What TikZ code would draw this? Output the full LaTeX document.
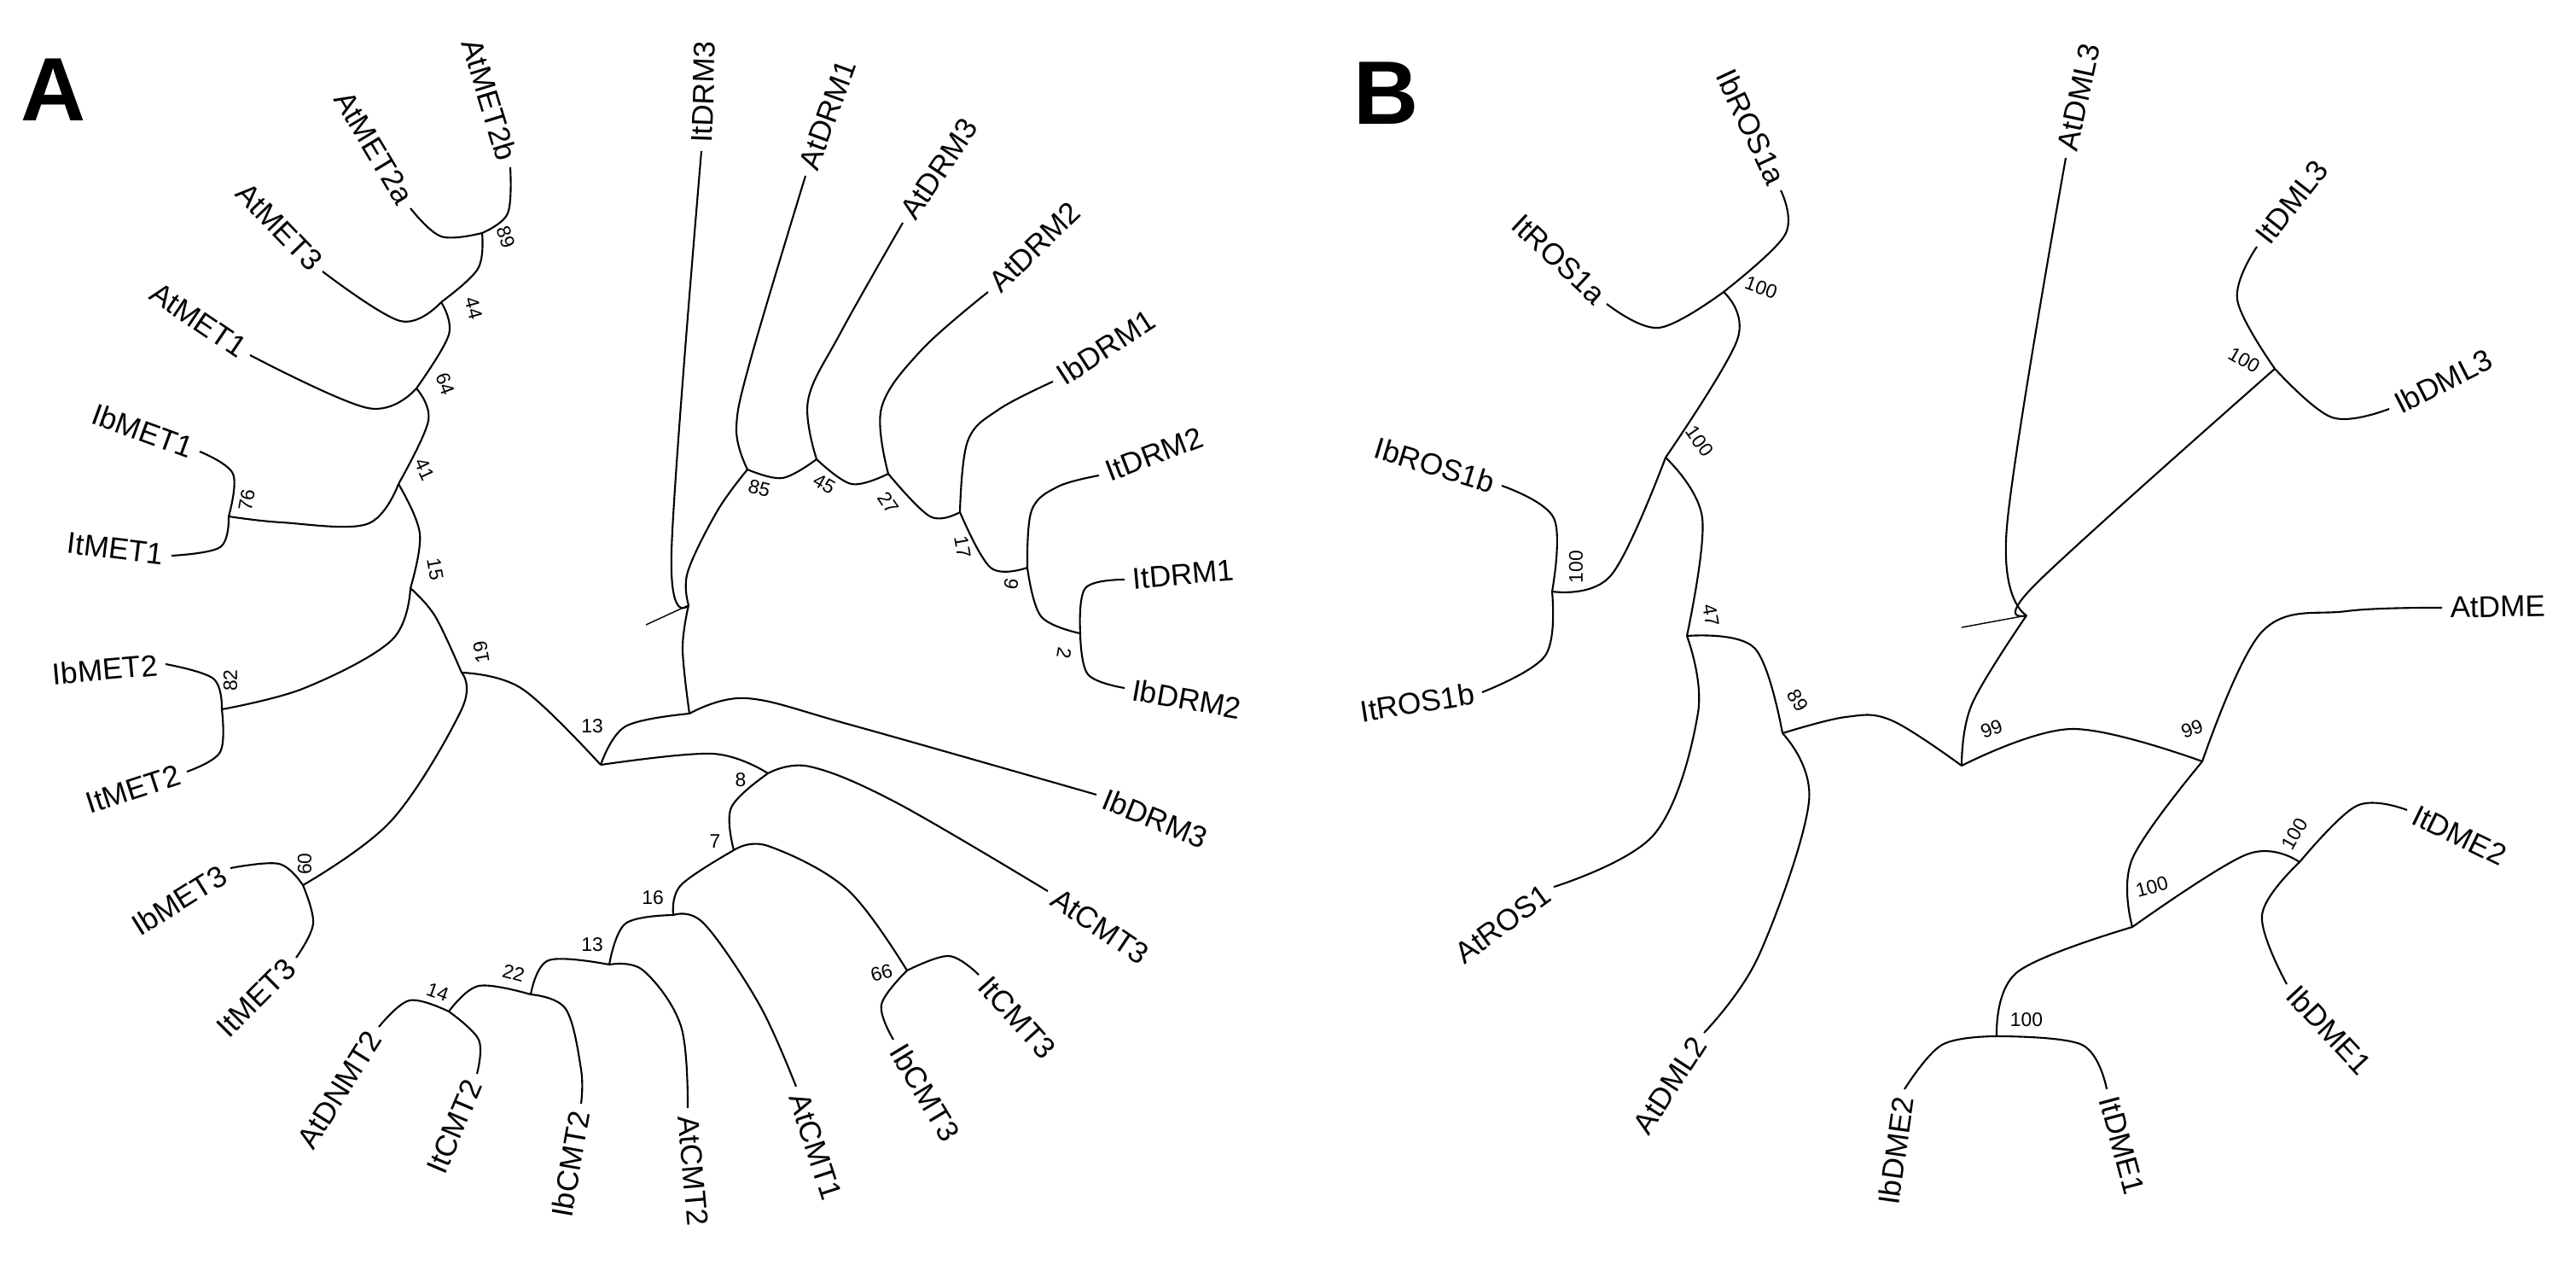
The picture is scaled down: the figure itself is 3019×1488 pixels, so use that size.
\documentclass[tikz,border=0pt]{standalone}
\usepackage{fontspec}
\setmainfont{Liberation Sans}
\newcommand{\leaffont}{\fontsize{10}{12}\selectfont}
\newcommand{\bootfont}{\fontsize{6.5}{8}\selectfont}
\tikzset{
  branch/.style={line width=0.6pt, smooth, tension=0.6},
  leafL/.style={anchor=east, inner sep=2.5pt, font=\leaffont},
  leafR/.style={anchor=west, inner sep=2.5pt, font=\leaffont},
  boot/.style={inner sep=0pt, font=\bootfont},
  panel/.style={font=\fontsize{30}{30}\selectfont\bfseries}
}
\begin{document}
\begin{tikzpicture}[x=0.01cm, y=-0.01cm]
\useasboundingbox (0,0) rectangle (3019,1488);

\node[panel] (A) at (63,105) {A};
\node[panel] (B) at (1625,109) {B};

% panel A: inner nodes
\coordinate (n89) at (565,273);
\coordinate (n44) at (517,354);
\coordinate (n64) at (488,455);
\coordinate (n41) at (467,567);
\coordinate (n76) at (268,605);
\coordinate (n15) at (481,689);
\coordinate (n19) at (541,788);
\coordinate (n13) at (704,896);
\coordinate (n82) at (260,831);
\coordinate (n60) at (355,1037);
\coordinate (J) at (808,836);
\coordinate (nT) at (807,709);
\coordinate (tk) at (757,732);
\coordinate (n85) at (876,550);
\coordinate (n45) at (957,538);
\coordinate (n27) at (1041,555);
\coordinate (n17) at (1125,600);
\coordinate (n9) at (1204,665);
\coordinate (n2) at (1266,742);
\coordinate (n8) at (900,906);
\coordinate (n7) at (860,996);
\coordinate (n16) at (789,1072);
\coordinate (n13b) at (714,1130);
\coordinate (n22) at (622,1165);
\coordinate (n14) at (526,1185);
\coordinate (n66) at (1063,1137);

% panel A: leaves
\coordinate (tAtMET2b) at (598,196);
\coordinate (tAtMET2a) at (481,244);
\coordinate (tAtMET3) at (378,318);
\coordinate (tAtMET1) at (293,416);
\coordinate (tIbMET1) at (234,529);
\coordinate (tItMET1) at (201,651);
\coordinate (tIbMET2) at (194,778);
\coordinate (tItMET2) at (219,904);
\coordinate (tIbMET3) at (270,1017);
\coordinate (tItMET3) at (347,1122);
\coordinate (tAtDNMT2) at (444,1203);
\coordinate (tItCMT2) at (559,1258);
\coordinate (tIbCMT2) at (681,1293);
\coordinate (tAtCMT2) at (806,1298);
\coordinate (tAtCMT1) at (933,1273);
\coordinate (tIbCMT3) at (1047,1218);
\coordinate (tItCMT3) at (1147,1142);
\coordinate (tAtCMT3) at (1228,1044);
\coordinate (tIbDRM3) at (1285,931);
\coordinate (tIbDRM2) at (1318,806);
\coordinate (tItDRM1) at (1318,679);
\coordinate (tItDRM2) at (1288,557);
\coordinate (tIbDRM1) at (1234,447);
\coordinate (tAtDRM2) at (1158,342);
\coordinate (tAtDRM3) at (1058,261);
\coordinate (tAtDRM1) at (944,206);
\coordinate (tItDRM3) at (822,177);

\node[leafL, rotate=-73] (AtMET2b) at (tAtMET2b) {AtMET2b};
\node[leafL, rotate=-59] (AtMET2a) at (tAtMET2a) {AtMET2a};
\node[leafL, rotate=-46] (AtMET3) at (tAtMET3) {AtMET3};
\node[leafL, rotate=-34] (AtMET1) at (tAtMET1) {AtMET1};
\node[leafL, rotate=-20] (IbMET1) at (tIbMET1) {IbMET1};
\node[leafL, rotate=-7] (ItMET1) at (tItMET1) {ItMET1};
\node[leafL, rotate=5] (IbMET2) at (tIbMET2) {IbMET2};
\node[leafL, rotate=18] (ItMET2) at (tItMET2) {ItMET2};
\node[leafL, rotate=32] (IbMET3) at (tIbMET3) {IbMET3};
\node[leafL, rotate=45] (ItMET3) at (tItMET3) {ItMET3};
\node[leafL, rotate=58] (AtDNMT2) at (tAtDNMT2) {AtDNMT2};
\node[leafL, rotate=67] (ItCMT2) at (tItCMT2) {ItCMT2};
\node[leafL, rotate=80] (IbCMT2) at (tIbCMT2) {IbCMT2};
\node[leafR, rotate=-85] (AtCMT2) at (tAtCMT2) {AtCMT2};
\node[leafR, rotate=-72] (AtCMT1) at (tAtCMT1) {AtCMT1};
\node[leafR, rotate=-59] (IbCMT3) at (tIbCMT3) {IbCMT3};
\node[leafR, rotate=-48] (ItCMT3) at (tItCMT3) {ItCMT3};
\node[leafR, rotate=-34] (AtCMT3) at (tAtCMT3) {AtCMT3};
\node[leafR, rotate=-22] (IbDRM3) at (tIbDRM3) {IbDRM3};
\node[leafR, rotate=-10] (IbDRM2) at (tIbDRM2) {IbDRM2};
\node[leafR, rotate=5] (ItDRM1) at (tItDRM1) {ItDRM1};
\node[leafR, rotate=21] (ItDRM2) at (tItDRM2) {ItDRM2};
\node[leafR, rotate=33] (IbDRM1) at (tIbDRM1) {IbDRM1};
\node[leafR, rotate=44] (AtDRM2) at (tAtDRM2) {AtDRM2};
\node[leafR, rotate=56] (AtDRM3) at (tAtDRM3) {AtDRM3};
\node[leafR, rotate=70] (AtDRM1) at (tAtDRM1) {AtDRM1};
\node[leafR, rotate=88] (ItDRM3) at (tItDRM3) {ItDRM3};

% panel A: branches
\draw[branch] plot coordinates {(n89) (595,250) (tAtMET2b)};
\draw[branch] plot coordinates {(n89) (517,277) (tAtMET2a)};
\draw[branch] plot coordinates {(n44) (560,315) (n89)};
\draw[branch] plot coordinates {(n44) (469,376) (tAtMET3)};
\draw[branch] plot coordinates {(n64) (526,392) (n44)};
\draw[branch] plot coordinates {(n64) (431,478) (tAtMET1)};
\draw[branch] plot coordinates {(n41) (502,493) (n64)};
\draw[branch] plot coordinates {(n41) (430,614) (330,612) (n76)};
\draw[branch] plot coordinates {(n76) (273,555) (tIbMET1)};
\draw[branch] plot coordinates {(n76) (258,641) (tItMET1)};
\draw[branch] plot coordinates {(n15) (492,625) (n41)};
\draw[branch] plot coordinates {(n19) (510,722) (n15)};
\draw[branch] plot coordinates {(n15) (459,750) (357,806) (n82)};
\draw[branch] plot coordinates {(n82) (250,795) (tIbMET2)};
\draw[branch] plot coordinates {(n82) (258,881) (tItMET2)};
\draw[branch] plot coordinates {(n19) (541,831) (459,961) (n60)};
\draw[branch] plot coordinates {(n60) (327,1012) (tIbMET3)};
\draw[branch] plot coordinates {(n60) (367,1082) (tItMET3)};
\draw[branch] plot coordinates {(n13) (612,807) (n19)};
\draw[branch] plot coordinates {(n13) (733,851) (J)};
\draw[branch] plot coordinates {(J) (800,760) (nT)};
\draw (nT) -- (tk);
\draw[branch] plot coordinates {(nT) (787,646) (tItDRM3)};
\draw[branch] plot coordinates {(J) (875,818) (1000,850) (tIbDRM3)};
\draw[branch] plot coordinates {(nT) (806,670) (841,598) (n85)};
\draw[branch] plot coordinates {(n85) (863,502) (880,420) (tAtDRM1)};
\draw[branch] plot coordinates {(n85) (917,560) (n45)};
\draw[branch] plot coordinates {(n45) (947,469) (985,390) (tAtDRM3)};
\draw[branch] plot coordinates {(n45) (998,567) (n27)};
\draw[branch] plot coordinates {(n27) (1033,478) (1080,410) (tAtDRM2)};
\draw[branch] plot coordinates {(n27) (1090,605) (n17)};
\draw[branch] plot coordinates {(n17) (1134,517) (1170,480) (tIbDRM1)};
\draw[branch] plot coordinates {(n17) (1161,665) (n9)};
\draw[branch] plot coordinates {(n9) (1209,598) (1240,570) (tItDRM2)};
\draw[branch] plot coordinates {(n9) (1220,722) (n2)};
\draw[branch] plot coordinates {(n2) (1272,689) (tItDRM1)};
\draw[branch] plot coordinates {(n2) (1275,790) (tIbDRM2)};
\draw[branch] plot coordinates {(n13) (835,883) (n8)};
\draw[branch] plot coordinates {(n8) (949,898) (1050,940) (tAtCMT3)};
\draw[branch] plot coordinates {(n8) (857,946) (n7)};
\draw[branch] plot coordinates {(n7) (900,991) (993,1042) (n66)};
\draw[branch] plot coordinates {(n66) (1112,1120) (tItCMT3)};
\draw[branch] plot coordinates {(n66) (1033,1177) (tIbCMT3)};
\draw[branch] plot coordinates {(n7) (798,1037) (n16)};
\draw[branch] plot coordinates {(n16) (825,1082) (890,1177) (tAtCMT1)};
\draw[branch] plot coordinates {(n16) (733,1082) (n13b)};
\draw[branch] plot coordinates {(n13b) (754,1137) (798,1202) (tAtCMT2)};
\draw[branch] plot coordinates {(n13b) (643,1125) (n22)};
\draw[branch] plot coordinates {(n22) (663,1182) (681,1253) (tIbCMT2)};
\draw[branch] plot coordinates {(n22) (561,1155) (n14)};
\draw[branch] plot coordinates {(n14) (561,1218) (tItCMT2)};
\draw[branch] plot coordinates {(n14) (480,1172) (tAtDNMT2)};

% panel A: bootstrap values
\node[boot, rotate=-70] (b89) at (593,278) {89};
\node[boot, rotate=-75] (b44) at (555,361) {44};
\node[boot, rotate=-70] (b64) at (522,450) {64};
\node[boot, rotate=-65] (b41) at (498,550) {41};
\node[boot, rotate=80] (b76) at (289,586) {76};
\node[boot, rotate=-80] (b15) at (510,667) {15};
\node[boot, rotate=100] (b19) at (564,764) {19};
\node[boot] (b13) at (694,851) {13};
\node[boot, rotate=90] (b82) at (270,797) {82};
\node[boot, rotate=90] (b60) at (357,1012) {60};
\node[boot] (b13b) at (694,1107) {13};
\node[boot, rotate=-15] (b22) at (602,1140) {22};
\node[boot, rotate=-20] (b14) at (513,1162) {14};
\node[boot] (b16) at (765,1052) {16};
\node[boot] (b7) at (838,986) {7};
\node[boot] (b8) at (868,914) {8};
\node[boot, rotate=15] (b66) at (1033,1140) {66};
\node[boot, rotate=-100] (b2) at (1247,765) {2};
\node[boot, rotate=-15] (b85) at (890,572) {85};
\node[boot, rotate=-30] (b45) at (966,567) {45};
\node[boot, rotate=-55] (b27) at (1041,589) {27};
\node[boot, rotate=-80] (b17) at (1128,641) {17};
\node[boot, rotate=-100] (b9) at (1185,684) {9};

% panel B: inner nodes
\coordinate (m100a) at (2020,342);
\coordinate (m100b) at (1952,536);
\coordinate (m100c) at (1819,693);
\coordinate (m47) at (1977,745);
\coordinate (m89) at (2089,859);
\coordinate (rB) at (2299,897);
\coordinate (mT) at (2375,721);
\coordinate (tkB) at (2299,735);
\coordinate (m100d) at (2666,432);
\coordinate (m99) at (2581,892);
\coordinate (m100e) at (2499,1086);
\coordinate (m100f) at (2695,1010);
\coordinate (m100g) at (2340,1214);

% panel B: leaves
\coordinate (tIbROS1a) at (2087,223);
\coordinate (tItROS1a) at (1883,356);
\coordinate (tIbROS1b) at (1760,569);
\coordinate (tItROS1b) at (1737,811);
\coordinate (tAtROS1) at (1821,1039);
\coordinate (tAtDML2) at (1997,1210);
\coordinate (tIbDME2) at (2232,1276);
\coordinate (tItDME1) at (2469,1276);
\coordinate (tIbDME1) at (2680,1153);
\coordinate (tItDME2) at (2821,949);
\coordinate (tAtDME) at (2862,712);
\coordinate (tIbDML3) at (2800,479);
\coordinate (tItDML3) at (2645,289);
\coordinate (tAtDML3) at (2421,185);

\node[leafL, rotate=-65] (IbROS1a) at (tIbROS1a) {IbROS1a};
\node[leafL, rotate=-43] (ItROS1a) at (tItROS1a) {ItROS1a};
\node[leafL, rotate=-17] (IbROS1b) at (tIbROS1b) {IbROS1b};
\node[leafL, rotate=9] (ItROS1b) at (tItROS1b) {ItROS1b};
\node[leafL, rotate=36] (AtROS1) at (tAtROS1) {AtROS1};
\node[leafL, rotate=57] (AtDML2) at (tAtDML2) {AtDML2};
\node[leafL, rotate=82] (IbDME2) at (tIbDME2) {IbDME2};
\node[leafR, rotate=-75] (ItDME1) at (tItDME1) {ItDME1};
\node[leafR, rotate=-47] (IbDME1) at (tIbDME1) {IbDME1};
\node[leafR, rotate=-26] (ItDME2) at (tItDME2) {ItDME2};
\node[leafR, rotate=1] (AtDME) at (tAtDME) {AtDME};
\node[leafR, rotate=27] (IbDML3) at (tIbDML3) {IbDML3};
\node[leafR, rotate=52] (ItDML3) at (tItDML3) {ItDML3};
\node[leafR, rotate=78] (AtDML3) at (tAtDML3) {AtDML3};

% panel B: branches
\draw[branch] plot coordinates {(m100a) (2092,275) (tIbROS1a)};
\draw[branch] plot coordinates {(m100a) (1944,384) (tItROS1a)};
\draw[branch] plot coordinates {(m100b) (2036,398) (m100a)};
\draw[branch] plot coordinates {(m100b) (1888,674) (m100c)};
\draw[branch] plot coordinates {(m100c) (1821,607) (tIbROS1b)};
\draw[branch] plot coordinates {(m100c) (1811,768) (tItROS1b)};
\draw[branch] plot coordinates {(m100b) (1995,607) (m47)};
\draw[branch] plot coordinates {(m47) (1990,835) (1939,977) (tAtROS1)};
\draw[branch] plot coordinates {(m47) (2056,759) (m89)};
\draw[branch] plot coordinates {(m89) (2120,939) (2061,1120) (tAtDML2)};
\draw[branch] plot coordinates {(m89) (2163,840) (2217,844) (rB)};
\draw[branch] plot coordinates {(rB) (2311,825) (mT)};
\draw (mT) -- (tkB);
\draw[branch] plot coordinates {(mT) (2352,617) (tAtDML3)};
\draw[branch] plot coordinates {(mT) (2387,683) (m100d)};
\draw[branch] plot coordinates {(m100d) (2622,351) (tItDML3)};
\draw[branch] plot coordinates {(m100d) (2733,489) (tIbDML3)};
\draw[branch] plot coordinates {(rB) (2428,854) (m99)};
\draw[branch] plot coordinates {(m99) (2651,740) (2750,716) (tAtDME)};
\draw[branch] plot coordinates {(m99) (2499,1006) (m100e)};
\draw[branch] plot coordinates {(m100e) (2633,1001) (m100f)};
\draw[branch] plot coordinates {(m100f) (2762,944) (tItDME2)};
\draw[branch] plot coordinates {(m100f) (2651,1072) (tIbDME1)};
\draw[branch] plot coordinates {(m100e) (2364,1139) (m100g)};
\draw[branch] plot coordinates {(m100g) (2276,1224) (tIbDME2)};
\draw[branch] plot coordinates {(m100g) (2440,1224) (tItDME1)};

% panel B: bootstrap values
\node[boot, rotate=-20] (c100a) at (2064,337) {100};
\node[boot, rotate=-55] (c100b) at (1992,517) {100};
\node[boot, rotate=90] (c100c) at (1847,664) {100};
\node[boot, rotate=-80] (c47) at (2005,721) {47};
\node[boot, rotate=-60] (c89) at (2107,821) {89};
\node[boot, rotate=20] (c99a) at (2334,854) {99};
\node[boot, rotate=-30] (c100d) at (2630,422) {100};
\node[boot, rotate=20] (c99b) at (2569,854) {99};
\node[boot, rotate=15] (c100e) at (2522,1039) {100};
\node[boot, rotate=60] (c100f) at (2689,977) {100};
\node[boot] (c100g) at (2375,1195) {100};
\end{tikzpicture}
\end{document}
